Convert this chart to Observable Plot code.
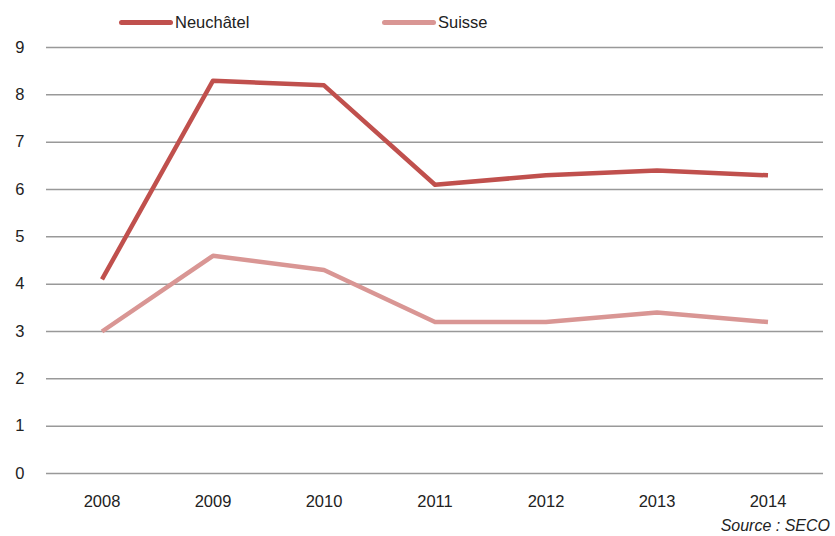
<!DOCTYPE html>
<html>
<head>
<meta charset="utf-8">
<script src="https://cdn.jsdelivr.net/npm/d3@7"></script>
<script src="https://cdn.jsdelivr.net/npm/@observablehq/plot@0.6"></script>
<style>
  body { margin: 0; background: #fff; font-family: "Liberation Sans", Arial, sans-serif; }
  #wrap { position: relative; width: 835px; height: 536px; }
  .legend { position: absolute; top: 13px; left: 0; height: 24px; font-size: 16.5px; color: #222; }
  .item { position: absolute; top: 0; display: flex; align-items: center; white-space: nowrap; }
  .sw { width: 54px; height: 5px; border-radius: 3px; margin-right: 2px; }
  #chart { position: absolute; top: 36px; left: 0; }
  .caption { position: absolute; right: 5px; top: 517px; font-size: 16px; font-style: italic; color: #222; }
</style>
</head>
<body>
<div id="wrap">
  <div class="legend">
    <div class="item" style="left:119px"><div class="sw" style="background:#c0504d"></div><span>Neuchâtel</span></div>
    <div class="item" style="left:382px"><div class="sw" style="background:#d99694"></div><span>Suisse</span></div>
  </div>
  <div id="chart"></div>
  <div class="caption">Source : SECO</div>
</div>
<script>
const years = ["2008", "2009", "2010", "2011", "2012", "2013", "2014"];
const neuchatel = [4.1, 8.3, 8.2, 6.1, 6.3, 6.4, 6.3];
const suisse = [3.0, 4.6, 4.3, 3.2, 3.2, 3.4, 3.2];
const yTicks = [0, 1, 2, 3, 4, 5, 6, 7, 8, 9];
const seriesNames = ["Neuchâtel", "Suisse"];
const colors = ["#c0504d", "#d99694"];

const data = [];
years.forEach((y, i) => {
  data.push({year: y, value: neuchatel[i], series: seriesNames[0]});
  data.push({year: y, value: suisse[i], series: seriesNames[1]});
});

const plot = Plot.plot({
  width: 835,
  height: 480,
  marginTop: 11,
  marginBottom: 43,
  marginLeft: 46,
  marginRight: 12,
  style: { fontFamily: "Liberation Sans, Arial, sans-serif", fontSize: "16px", color: "#222" },
  x: { type: "band", domain: years, padding: 0, label: null },
  y: { domain: [0, 9], label: null },
  color: { domain: seriesNames, range: colors },
  marks: [
    Plot.ruleY(yTicks, { stroke: "#999", strokeWidth: 1.5, strokeOpacity: 1 }),
    Plot.axisY({ ticks: yTicks, tickSize: 0, tickPadding: 22, label: null, fontSize: 16.5, tickFormat: d => String(d) }),
    Plot.axisX({ tickSize: 0, tickPadding: 22, label: null, fontSize: 16.5 }),
    Plot.line(data, { x: "year", y: "value", z: "series", stroke: "series", strokeWidth: 4.5, strokeLinejoin: "round", strokeLinecap: "butt" })
  ]
});
document.getElementById("chart").appendChild(plot);
</script>
</body>
</html>
